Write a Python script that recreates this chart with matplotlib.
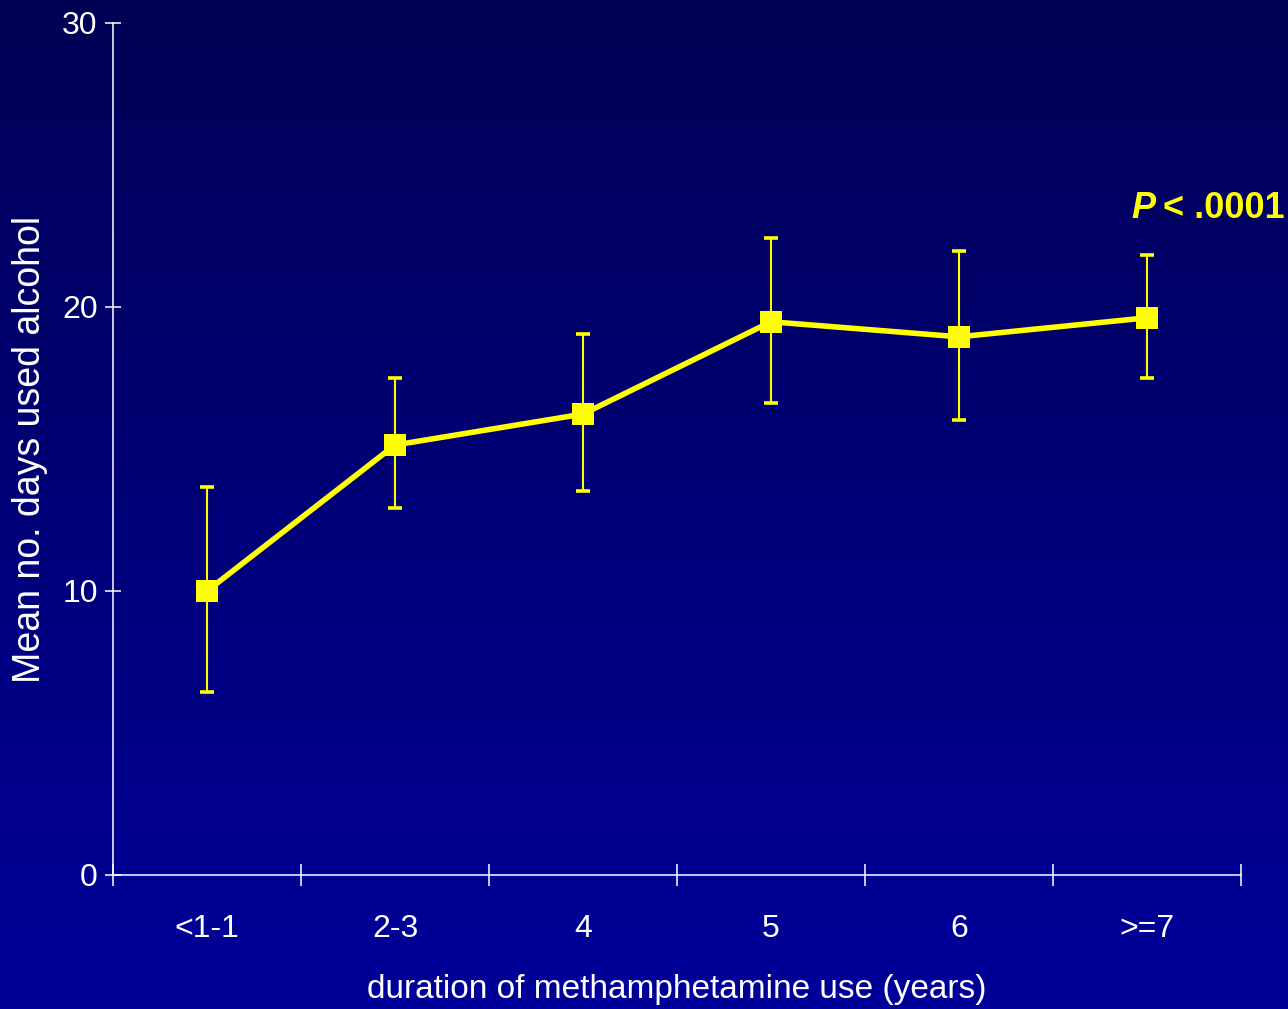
import numpy as np
import matplotlib
matplotlib.use("Agg")
import matplotlib.pyplot as plt
from matplotlib.colors import LinearSegmentedColormap

categories = ["<1-1", "2-3", "4", "5", "6", ">=7"]
means = [10.0, 15.14, 16.23, 19.48, 18.95, 19.62]
lower = [6.43, 12.92, 13.52, 16.61, 16.02, 17.49]
upper = [13.66, 17.50, 19.05, 22.43, 21.98, 21.84]
y_ticks = [0, 10, 20, 30]

plt.rcParams['font.family'] = ['Liberation Sans', 'DejaVu Sans']

fig = plt.figure(figsize=(12.88, 10.09), dpi=100)

# gradient background
bg = fig.add_axes([0, 0, 1, 1], zorder=-10)
cmap = LinearSegmentedColormap.from_list("bg", ["#000055", "#00009A"])
grad = np.linspace(0, 1, 256).reshape(-1, 1)
bg.imshow(grad, aspect="auto", cmap=cmap, extent=[0, 1, 0, 1], origin="upper")
bg.axis("off")

ax = fig.add_axes([113/1288, 1 - 875/1009, (1241-113)/1288, (875-23)/1009])
ax.patch.set_alpha(0)

x = np.arange(len(categories))
m = np.array(means)
yerr = [m - np.array(lower), np.array(upper) - m]
ax.errorbar(x, m, yerr=yerr, fmt="none", ecolor="#FFFF00", elinewidth=1.5,
            capsize=4.7, capthick=2.6, zorder=2)
ax.plot(x, m, color="#FFFF00", lw=4.0, marker="s", markersize=16,
        markeredgewidth=0, zorder=3)

ax.set_xlim(-0.5, len(categories) - 0.5)
ax.set_ylim(0, 30)

for s in ["top", "right"]:
    ax.spines[s].set_visible(False)
for s in ["left", "bottom"]:
    ax.spines[s].set_color("white")
    ax.spines[s].set_linewidth(1.1)

ax.set_xticks(np.arange(-0.5, len(categories), 1.0))
ax.set_xticklabels([])
ax.set_xticks(x, minor=True)
ax.set_xticklabels(categories, minor=True)
ax.tick_params(axis="x", which="major", direction="inout", length=16, width=1.1, color="white")
ax.tick_params(axis="x", which="minor", length=0, pad=28, labelsize=23, labelcolor="white")

ax.set_yticks(y_ticks)
ax.tick_params(axis="y", direction="inout", length=12, width=1.1, color="white",
               labelsize=23, labelcolor="white", pad=5)

ax.set_xlabel("duration of methamphetamine use (years)", color="white", fontsize=24, labelpad=22)
ax.set_ylabel("Mean no. days used alcohol", color="white", fontsize=27, labelpad=10)

fig.text(1131/1288, 1 - 209/1009, "P", color="#FFFF00", fontsize=26,
         fontweight="bold", fontstyle="italic", va="center", ha="left")
fig.text(1163/1288, 1 - 209/1009, "< .0001", color="#FFFF00", fontsize=26,
         fontweight="bold", va="center", ha="left")

fig.savefig("out.png", dpi=100)
